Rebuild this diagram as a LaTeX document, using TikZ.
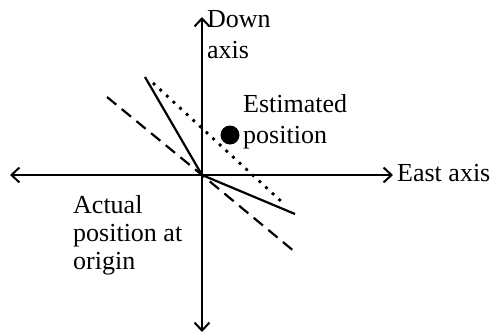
\documentclass[tikz,border=0pt]{standalone}
\usepackage{fontspec}
\setmainfont{Liberation Serif}
\usetikzlibrary{arrows.meta}

\begin{document}
\begin{tikzpicture}[x=1pt,y=-1pt]
\tikzstyle{every node}=[inner sep=0pt,align=left,font=\fontsize{26}{31}\selectfont]
\tikzstyle{axis}=[line width=2pt,arrows={Straight Barb[length=8pt,width=15pt]-Straight Barb[length=8pt,width=15pt]}]
\tikzstyle{track}=[line width=2.2pt]
\useasboundingbox (0,0) rectangle (490,333);
\coordinate (o) at (202,175);
\coordinate (w) at (10,175);
\coordinate (e) at (393,175);
\coordinate (n) at (202,17);
\coordinate (s) at (202,332);
\coordinate (sol1) at (145,77);
\coordinate (sol2) at (295,214);
\coordinate (dash1) at (107,97);
\coordinate (dash2) at (295,252);
\coordinate (dot1) at (153,83);
\coordinate (dot2) at (283,203);
\draw[axis] (w) -- (e);
\draw[axis] (n) -- (s);
\draw[track] (sol1) -- (o) -- (sol2);
\draw[track,dash pattern=on 12pt off 7pt] (dash1) -- (o) -- (dash2);
\draw[line width=2.8pt,dash pattern=on 2.8pt off 6.2pt] (dot1) -- (dot2);
\node[circle,fill,minimum size=19pt] (est) at (230,135) {};
\node[anchor=north west] (down) at (207,10) {Down\\axis};
\node[anchor=north west] (estpos) at (243,94) {Estimated\\position};
\node[anchor=base west] (east) at (397,181) {East axis};
\node[anchor=north west,font=\fontsize{26}{28}\selectfont] (actual) at (73,195) {Actual\\position at\\origin};
\end{tikzpicture}
\end{document}
